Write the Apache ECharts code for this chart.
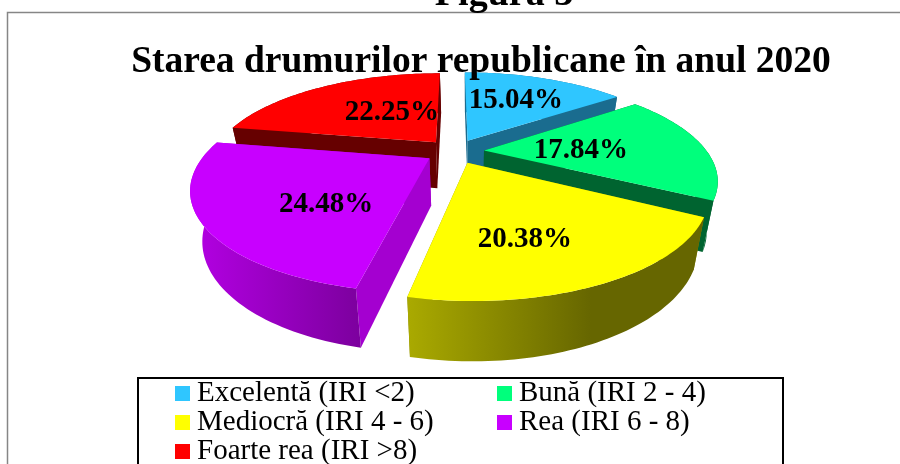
<!DOCTYPE html>
<html lang="en">
<head>
    <meta charset="UTF-8">
    <title>Starea drumurilor republicane</title>
    <script src="https://cdn.jsdelivr.net/npm/echarts@6/dist/echarts.min.js"></script>
    <style>
        body { margin: 0; background: #fff; }
    </style>
</head>
<body>
    <div id="myChart" style="width: 900px;height: 464px;"></div>
    <script>
        var categories = ['Excelentă (IRI <2)', 'Bună (IRI 2 - 4)', 'Mediocră (IRI 4 - 6)', 'Rea (IRI 6 - 8)', 'Foarte rea (IRI >8)'];
        var shares = [15.04, 17.84, 20.38, 24.48, 22.25];

        var topColors = ['#2fc6ff', '#00ff7c', '#ffff00', '#c800ff', '#ff0000'];
        var wallColors = ['#1a6c8f', '#006430', '#8a8a00', '#a400d0', '#660000'];
        var rimStops = [
            [['#1a6c8f', 0], ['#1a6c8f', 1]],
            [['#006430', 0], ['#006430', 1]],
            [['#aaaa00', 0], ['#666600', 0.62], ['#666600', 1]],
            [['#b400e4', 0], ['#7c009e', 1]],
            [['#660000', 0], ['#660000', 1]]
        ];
        // label spot in the plane of the pie: degrees off the bisector, radius from the apex
        var labelShift = [-1.6, 0.7, 7.6, -12.3, 10.1];
        var labelRadius = [0.62, 0.44, 0.655, 0.565, 0.47];

        // perspective used to flatten the pie
        var cx = 454.5, cy = 151.3, scaleX = 222.8, scaleY = 92.3, tilt = 0.276;
        var explode = 0.133;
        var total = shares.reduce(function (a, b) { return a + b; }, 0);

        function project(u, v) {
            var s = 1 / (1 + tilt * v);
            return [cx + scaleX * u * s, cy - scaleY * v * s];
        }
        // same point on the lower face of the slab
        function lower(p) {
            return [p[0] - 0.044 * (p[0] - 468), p[1] + 46 + 0.09 * (p[1] - 142)];
        }
        function rad(d) { return d * Math.PI / 180; }

        function sliceItem(i) {
            return function (params, api) {
                var value = api.value(0);
                var before = shares.slice(0, i).reduce(function (a, b) { return a + b; }, 0);
                var t0 = before / total * 360, t1 = (before + value) / total * 360;
                var mid = (t0 + t1) / 2;
                var ou = explode * Math.sin(rad(mid)), ov = explode * Math.cos(rad(mid));
                var apex = project(ou, ov);
                var rim = [];
                for (var k = 0; k <= 60; k++) {
                    var t = rad(t0 + (t1 - t0) * k / 60);
                    rim.push(project(ou + Math.sin(t), ov + Math.cos(t)));
                }
                var first = rim[0], last = rim[rim.length - 1];
                var walls = [[apex, first], [apex, last]].sort(function (a, b) { return a[1][1] - b[1][1]; });
                var children = [];
                walls.forEach(function (w) {
                    children.push({
                        type: 'polygon',
                        shape: { points: [w[0], w[1], lower(w[1]), lower(w[0])] },
                        style: { fill: wallColors[i] }
                    });
                });
                children.push({
                    type: 'polygon',
                    shape: { points: rim.concat(rim.map(lower).reverse()) },
                    style: {
                        fill: new echarts.graphic.LinearGradient(0, 0, 1, 0, rimStops[i].map(function (s) {
                            return { offset: s[1], color: s[0] };
                        }))
                    }
                });
                children.push({
                    type: 'polygon',
                    shape: { points: [apex].concat(rim) },
                    style: { fill: topColors[i] }
                });
                var la = rad(mid + labelShift[i]);
                var spot = project(ou + labelRadius[i] * Math.sin(la), ov + labelRadius[i] * Math.cos(la));
                children.push({
                    type: 'text',
                    x: spot[0],
                    y: spot[1] + 2,
                    z2: 50,
                    style: {
                        text: value.toFixed(2) + '%',
                        align: 'center',
                        verticalAlign: 'middle',
                        fill: '#000',
                        font: 'bold 29px "Liberation Serif"'
                    }
                });
                return { type: 'group', children: children };
            };
        }

        // back slices first so the front ones cover them
        var drawRank = [0, 2, 4, 3, 1];

        var myChart = echarts.init(document.getElementById('myChart'));
        var option = {
            animation: false,
            title: [{
                text: 'Figura 3',
                left: 499,
                top: -29,
                textAlign: 'center',
                z: 20,
                textStyle: { fontFamily: 'Liberation Serif', fontWeight: 'bold', fontSize: 38, color: '#000' }
            }, {
                text: 'Starea drumurilor republicane în anul 2020',
                left: 476,
                top: 38,
                textAlign: 'center',
                z: 20,
                textStyle: { fontFamily: 'Liberation Serif', fontWeight: 'bold', fontSize: 37.5, color: '#000' }
            }],
            legend: {
                left: 170,
                top: 379,
                padding: [0, 0, 0, 5],
                width: 660,
                orient: 'horizontal',
                icon: 'rect',
                itemWidth: 15,
                itemHeight: 15,
                itemGap: 0,
                z: 20,
                data: categories,
                textStyle: {
                    fontFamily: 'Liberation Serif',
                    fontSize: 29,
                    color: '#000',
                    width: 300,
                    lineHeight: 29,
                    padding: [0, 0, 0, 2]
                }
            },
            graphic: [{
                type: 'rect',
                silent: true,
                z: -1,
                shape: { x: 7.5, y: 12.5, width: 1000, height: 600 },
                style: { fill: '#fff', stroke: '#868686', lineWidth: 1.5 }
            }, {
                type: 'rect',
                silent: true,
                z: 10,
                shape: { x: 138, y: 378, width: 645, height: 200 },
                style: { fill: '#fff', stroke: '#000', lineWidth: 2 }
            }],
            series: categories.map(function (name, i) {
                return {
                    type: 'custom',
                    name: name,
                    coordinateSystem: 'none',
                    silent: true,
                    z: 2 + drawRank[i],
                    itemStyle: { color: topColors[i] },
                    data: [[shares[i]]],
                    renderItem: sliceItem(i)
                };
            })
        };
        myChart.setOption(option);
    </script>
</body>
</html>
